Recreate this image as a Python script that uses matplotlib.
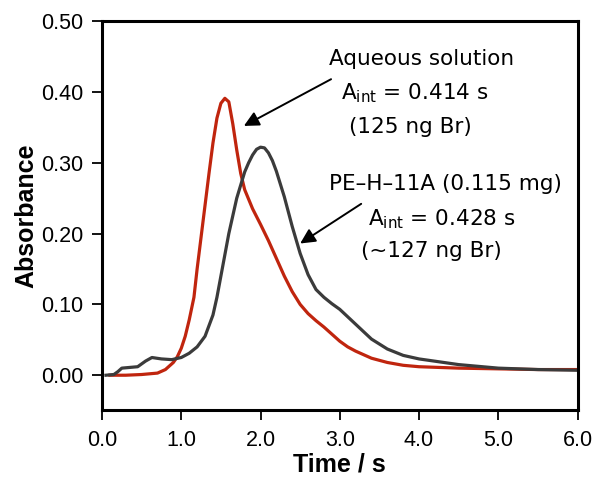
import matplotlib
matplotlib.use("Agg")
import matplotlib.pyplot as plt
from matplotlib.ticker import FixedLocator, FormatStrFormatter

# Aqueous solution (red)
aq_t = [0.10, 0.30, 0.50, 0.70, 0.80, 0.90, 0.95, 1.00, 1.05, 1.10, 1.16, 1.20, 1.25, 1.30,
        1.35, 1.40, 1.45, 1.50, 1.55, 1.60, 1.65, 1.70, 1.75, 1.80, 1.90, 2.00, 2.10,
        2.20, 2.30, 2.40, 2.50, 2.60, 2.70, 2.80, 2.90, 3.00, 3.10, 3.20, 3.40, 3.60,
        3.80, 4.00, 4.50, 5.00, 5.50, 6.00]
aq_a = [0.000, 0.000, 0.001, 0.003, 0.008, 0.018, 0.026, 0.038, 0.055, 0.078, 0.110, 0.150,
        0.195, 0.240, 0.285, 0.328, 0.363, 0.384, 0.391, 0.386, 0.355, 0.318, 0.285,
        0.262, 0.235, 0.213, 0.190, 0.165, 0.140, 0.118, 0.100, 0.087, 0.077, 0.068,
        0.058, 0.048, 0.040, 0.034, 0.024, 0.018, 0.014, 0.012, 0.010, 0.009, 0.008,
        0.008]

# PE-H-11A (gray)
pe_t = [0.05, 0.15, 0.20, 0.25, 0.35, 0.45, 0.55, 0.63, 0.75, 0.88, 1.00, 1.10, 1.20,
        1.30, 1.40, 1.45, 1.50, 1.60, 1.70, 1.80, 1.85, 1.90, 1.95, 2.00, 2.05, 2.10,
        2.15, 2.20, 2.30, 2.40, 2.50, 2.60, 2.70, 2.80, 2.90, 3.00, 3.20, 3.40, 3.60,
        3.80, 4.00, 4.50, 5.00, 5.50, 6.00]
pe_a = [0.000, 0.001, 0.005, 0.010, 0.011, 0.012, 0.020, 0.025, 0.023, 0.022, 0.025,
        0.031, 0.040, 0.055, 0.085, 0.110, 0.140, 0.200, 0.250, 0.287, 0.300, 0.311,
        0.319, 0.322, 0.321, 0.314, 0.303, 0.288, 0.252, 0.210, 0.172, 0.142, 0.121,
        0.110, 0.101, 0.093, 0.072, 0.051, 0.037, 0.028, 0.023, 0.015, 0.010, 0.008,
        0.007]

x_ticks = [0, 1, 2, 3, 4, 5, 6]
y_ticks = [0.0, 0.1, 0.2, 0.3, 0.4, 0.5]

fig = plt.figure(figsize=(5.93, 4.80), dpi=100)
ax = fig.add_axes([0.172, 0.146, 0.802, 0.810])

ax.plot(aq_t, aq_a, color="#c0250e", lw=2.3, solid_joinstyle="round")
ax.plot(pe_t, pe_a, color="#3b3b3b", lw=2.3, solid_joinstyle="round")

ax.set_xlim(0, 6)
ax.set_ylim(-0.049, 0.50)
ax.xaxis.set_major_locator(FixedLocator(x_ticks))
ax.yaxis.set_major_locator(FixedLocator(y_ticks))
ax.xaxis.set_major_formatter(FormatStrFormatter("%.1f"))
ax.yaxis.set_major_formatter(FormatStrFormatter("%.2f"))

for s in ax.spines.values():
    s.set_linewidth(2.2)
ax.tick_params(direction="out", length=7.5, width=1.3, labelsize=15.5, pad=6,
               labelfontfamily="Liberation Sans")
ax.tick_params(axis="x", pad=7)

ax.set_xlabel("Time / s", fontsize=18, fontweight="bold", family="Liberation Sans",
              labelpad=1)
ax.set_ylabel("Absorbance", fontsize=18, fontweight="bold", family="Liberation Sans",
              labelpad=2)

tk = dict(fontsize=15.5, family="DejaVu Sans", ha="center", va="center")
ax.text(4.03, 0.447, "Aqueous solution", **tk)
ax.text(3.95, 0.398, r"A$_{\mathrm{int}}$ = 0.414 s", **tk)
ax.text(3.89, 0.350, "(125 ng Br)", **tk)
ax.text(4.33, 0.270, "PE\u2013H\u201311A (0.115 mg)", **tk)
ax.text(4.28, 0.220, r"A$_{\mathrm{int}}$ = 0.428 s", **tk)
ax.text(4.15, 0.176, "(~127 ng Br)", **tk)

arrow = dict(arrowstyle="-|>,head_length=0.9,head_width=0.45", color="black", lw=1.4,
             shrinkA=0, shrinkB=0)
ax.annotate("", xy=(1.79, 0.352), xytext=(2.89, 0.418), arrowprops=arrow)
ax.annotate("", xy=(2.50, 0.186), xytext=(3.27, 0.242), arrowprops=arrow)

fig.savefig("out.png", dpi=100)
